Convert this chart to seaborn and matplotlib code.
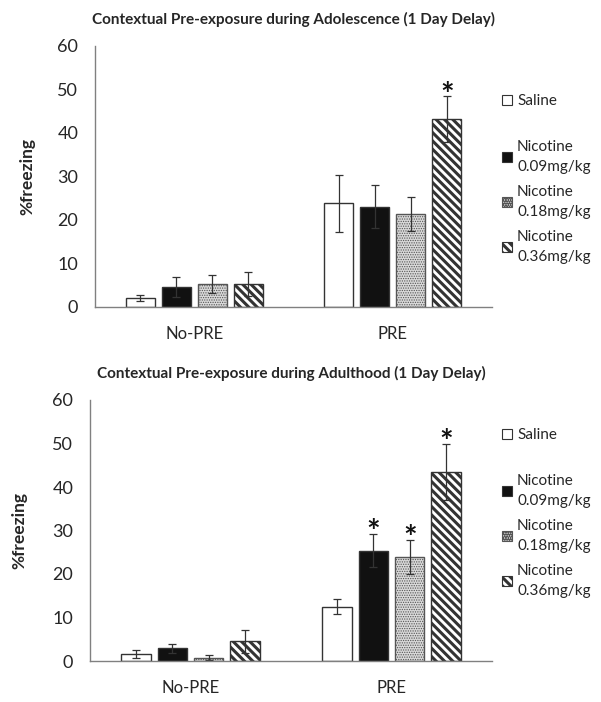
import pandas as pd
import seaborn as sns
import matplotlib.pyplot as plt
from matplotlib.patches import Patch

conditions = ['No-PRE', 'PRE']
groups = ['Saline', 'Nicotine\n0.09mg/kg', 'Nicotine\n0.18mg/kg', 'Nicotine\n0.36mg/kg']

# % freezing, one list per group: [No-PRE, PRE]
adol_means = [[2.0, 23.8], [4.6, 23.0], [5.2, 21.4], [5.2, 43.1]]
adol_sem = [[0.7, 6.6], [2.3, 5.0], [2.1, 3.9], [2.8, 5.3]]
adol_sig = [[False, False], [False, False], [False, False], [False, True]]

adult_means = [[1.6, 12.5], [2.9, 25.4], [0.8, 24.0], [4.5, 43.4]]
adult_sem = [[1.0, 1.8], [1.1, 3.9], [0.5, 3.9], [2.7, 6.5]]
adult_sig = [[False, False], [False, True], [False, True], [False, True]]

fills = ['white', '#111111', '#d9d9d9', 'white']
hatches = ['', '', '.......', '\\\\\\\\']

sns.set_style('white')
plt.rcParams['font.family'] = ['Lato', 'DejaVu Sans']
plt.rcParams['hatch.linewidth'] = 2.2
text_col = '#262626'
edge_col = '#333333'


def draw_panel(ax, means, sems, sig, title, ylab_x):
    df = pd.DataFrame({
        'Condition': conditions * len(groups),
        'Group': [g for g in groups for _ in conditions],
        'Freezing': [v for m in means for v in m],
    })
    sns.barplot(data=df, x='Condition', y='Freezing', hue='Group', order=conditions,
                hue_order=groups, palette=dict(zip(groups, fills)), saturation=1,
                errorbar=None, width=0.725, gap=0.19, edgecolor=edge_col, linewidth=1,
                legend=False, ax=ax)

    bar_conts = list(ax.containers)
    for i, cont in enumerate(bar_conts):
        for j, bar in enumerate(cont):
            if hatches[i]:
                bar.set_hatch(hatches[i])
                if i == 2:
                    bar.set_edgecolor('#555555')
                    if hasattr(bar, 'set_hatch_linewidth'):
                        bar.set_hatch_linewidth(0.6)
                    elif hasattr(bar, '_hatch_linewidth'):
                        bar._hatch_linewidth = 0.6
            x = bar.get_x() + bar.get_width() / 2
            y = bar.get_height()
            ax.errorbar(x, y, yerr=sems[i][j], color=edge_col, lw=0.9,
                        capsize=3, capthick=0.9)
            if sig[i][j]:
                # star glyph sits high in the line, so anchor on the baseline
                ax.text(x, y + sems[i][j] - 2.1, '*', ha='center', va='baseline',
                        fontsize=23, fontweight='bold', color='#111111')

    ax.set_xlim(-0.5, 1.5)
    ax.set_ylim(0, 60)
    ax.set_yticks(range(0, 61, 10))
    ax.set_xlabel('')
    ax.set_ylabel('%freezing', fontsize=12.5, fontweight='bold', color=text_col)
    ax.yaxis.set_label_coords(ylab_x, 0.5)
    ax.set_title(title, fontsize=11, fontweight='bold', color=text_col, pad=16)
    ax.tick_params(axis='y', direction='in', length=5, color='#808080',
                   labelsize=13, labelcolor=text_col, pad=12)
    ax.tick_params(axis='x', length=0, labelsize=12, labelcolor=text_col, pad=14)
    for s in ['top', 'right']:
        ax.spines[s].set_visible(False)
    for s in ['left', 'bottom']:
        ax.spines[s].set_color('#808080')
        ax.spines[s].set_linewidth(1)


def add_legend(fig, y_saline, y_nic):
    def handle(i):
        return Patch(facecolor=fills[i], edgecolor=edge_col if i != 2 else '#555555',
                     hatch=hatches[i], linewidth=0.8)
    kw = dict(frameon=False, fontsize=11, handlelength=0.65, handleheight=0.65,
              handletextpad=0.35, loc='center left', labelcolor=text_col)
    leg1 = fig.legend([handle(0)], groups[:1], bbox_to_anchor=(488 / 601, 1 - y_saline / 702), **kw)
    leg2 = fig.legend([handle(i) for i in range(1, 4)], groups[1:], labelspacing=0.75,
                      bbox_to_anchor=(488 / 601, 1 - y_nic / 702), **kw)
    for t in leg2.get_texts():
        t.set_linespacing(1.5)
    return leg1, leg2


fig = plt.figure(figsize=(6.01, 7.02), dpi=100)
ax1 = fig.add_axes([95 / 601, 1 - 306.7 / 702, 397 / 601, 260.7 / 702])
ax2 = fig.add_axes([90 / 601, 1 - 661 / 702, 402 / 601, 261 / 702])

draw_panel(ax1, adol_means, adol_sem, adol_sig,
           'Contextual Pre-exposure during Adolescence (1 Day Delay)', -0.15)
draw_panel(ax2, adult_means, adult_sem, adult_sig,
           'Contextual Pre-exposure during Adulthood (1 Day Delay)', -0.157)

add_legend(fig, 101, 202)
add_legend(fig, 435, 536)

fig.savefig('out.png', dpi=100)
